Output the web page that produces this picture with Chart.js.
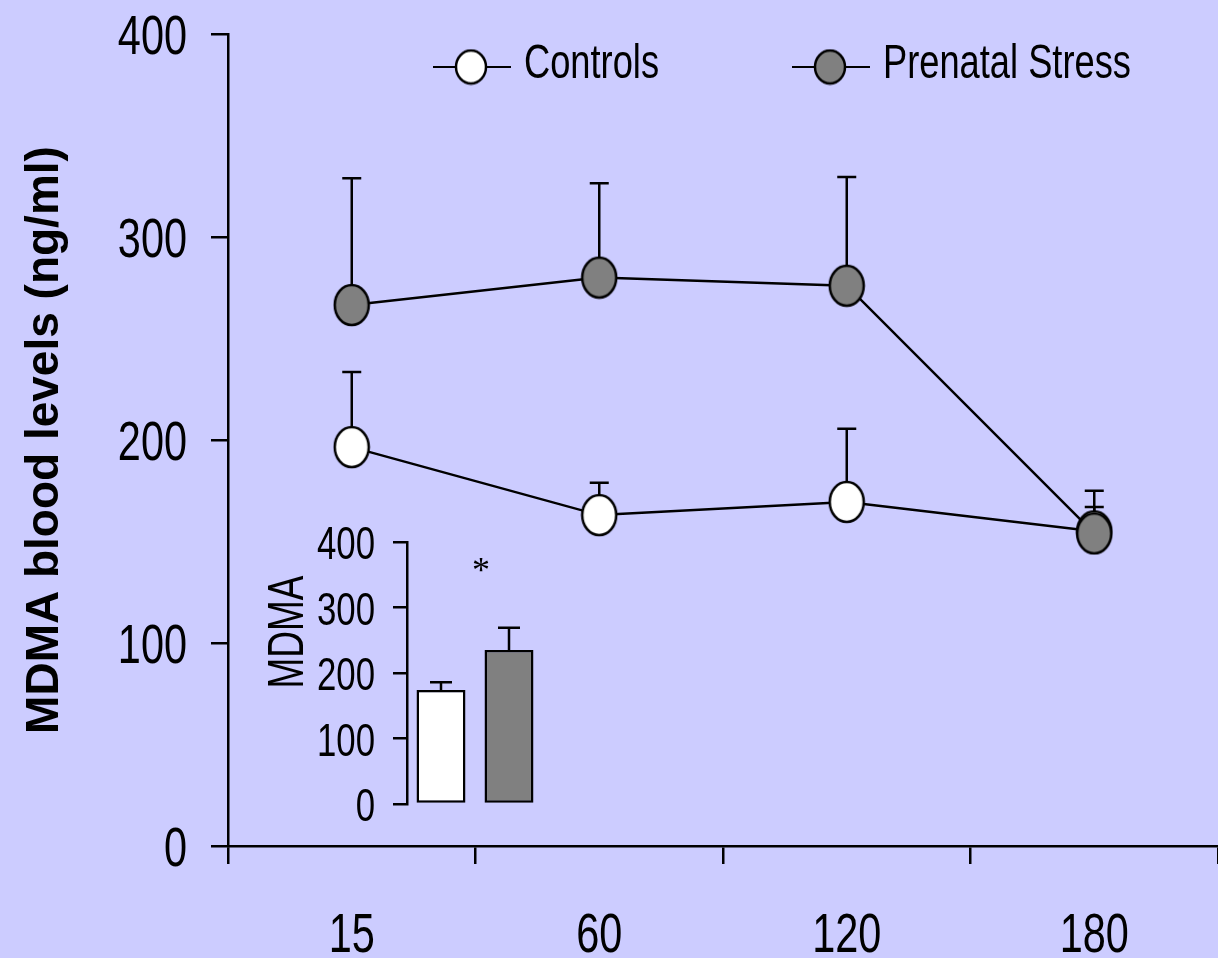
<!DOCTYPE html>
<html>
<head>
<meta charset="utf-8">
<script src="https://cdn.jsdelivr.net/npm/chart.js@4.4.1/dist/chart.umd.min.js"></script>
<style>
  body { margin: 0; background: #CCCCFF; }
  #wrap { position: relative; width: 1218px; height: 958px; overflow: hidden; }
  #inset { position: absolute; left: 240px; top: 510px; }
</style>
</head>
<body>
<div id="wrap">
  <canvas id="main" width="1218" height="958"></canvas>
  <canvas id="inset" width="320" height="320"></canvas>
</div>
<script>
// MDMA blood levels over time (min after injection)
const timePoints = ['15', '60', '120', '180'];
const controlsMean = [196.5, 163, 169.5, 155];
const controlsSem = [37, 16, 36, 12];
const stressMean = [266.5, 280, 276, 154];
const stressSem = [62.5, 46.5, 53.5, 21];
const yTicks = [0, 100, 200, 300, 400];

// inset: overall levels
const insetGroups = ['Controls', 'Prenatal Stress'];
const insetMean = [174, 235];
const insetSem = [12, 34];
const insetMark = '*';
const insetMarkValue = 363;

const SANS = "'Liberation Sans', Arial, sans-serif";
const GRAY = '#808080';
const SQUEEZE = 0.74; // the original type is a condensed face

// condensed text: plain font squeezed horizontally
function narrowText(ctx, text, x, y, size, align) {
    ctx.save();
    ctx.font = size + 'px ' + SANS;
    ctx.fillStyle = '#000';
    ctx.textBaseline = 'alphabetic';
    ctx.textAlign = align || 'left';
    ctx.translate(x, y);
    ctx.scale(SQUEEZE, 1);
    ctx.fillText(text, 0, 0);
    ctx.restore();
}

// ellipse markers as canvas point styles
function makeDot(fill, w, h) {
    const c = document.createElement('canvas');
    c.width = w + 4; c.height = h + 4;
    const g = c.getContext('2d');
    g.beginPath();
    g.ellipse(c.width / 2, c.height / 2, w / 2, h / 2, 0, 0, Math.PI * 2);
    g.fillStyle = fill;
    g.fill();
    g.lineWidth = 2.5;
    g.strokeStyle = '#000';
    g.stroke();
    return c;
}
const whiteDot = makeDot('#ffffff', 34, 40);
const grayDot = makeDot(GRAY, 34, 40);
const legendDots = [makeDot('#ffffff', 30, 33), makeDot(GRAY, 30, 33)];

// upward-only error bars
const errorBars = {
    id: 'errorBars',
    beforeDatasetsDraw(chart, args, opts) {
        if (!opts.after) drawErrors(chart, opts);
    },
    afterDatasetsDraw(chart, args, opts) {
        if (opts.after) drawErrors(chart, opts);
    }
};
function drawErrors(chart, opts) {
    const ctx = chart.ctx;
    const y = chart.scales.y;
    ctx.save();
    ctx.strokeStyle = '#000';
    ctx.lineWidth = opts.width || 2;
    chart.data.datasets.forEach((ds, i) => {
        const meta = chart.getDatasetMeta(i);
        meta.data.forEach((el, j) => {
            const top = y.getPixelForValue(ds.data[j] + ds.sem[j]);
            const base = y.getPixelForValue(ds.data[j]);
            const half = (opts.cap || 18) / 2;
            ctx.beginPath();
            ctx.moveTo(el.x, base);
            ctx.lineTo(el.x, top);
            ctx.moveTo(el.x - half, top);
            ctx.lineTo(el.x + half, top);
            ctx.stroke();
        });
    });
    ctx.restore();
}

// tick labels, legend
const mainText = {
    id: 'mainText',
    afterDraw(chart) {
        const ctx = chart.ctx;
        const x = chart.scales.x, y = chart.scales.y;
        yTicks.forEach(v => {
            narrowText(ctx, String(v), chart.chartArea.left - 41, y.getPixelForValue(v) + 20, 56, 'right');
        });
        timePoints.forEach((t, i) => {
            narrowText(ctx, t, x.getPixelForTick(i), chart.chartArea.bottom + 106, 56, 'center');
        });
        const starts = [433, 792];
        const yy = 67;
        chart.data.datasets.forEach((ds, i) => {
            const x0 = starts[i];
            ctx.save();
            ctx.strokeStyle = '#000';
            ctx.lineWidth = 2;
            ctx.beginPath();
            ctx.moveTo(x0, yy);
            ctx.lineTo(x0 + 78, yy);
            ctx.stroke();
            const img = legendDots[i];
            ctx.drawImage(img, x0 + 38 - img.width / 2, yy - img.height / 2);
            ctx.restore();
            narrowText(ctx, ds.label, x0 + 91, 78, 49, 'left');
        });
    }
};

new Chart(document.getElementById('main'), {
    type: 'line',
    data: {
        labels: timePoints,
        datasets: [{
            label: 'Controls',
            data: controlsMean,
            sem: controlsSem,
            borderColor: '#000',
            borderWidth: 2.5,
            pointStyle: whiteDot,
            pointRadius: 18,
            tension: 0,
            order: 2
        }, {
            label: 'Prenatal Stress',
            data: stressMean,
            sem: stressSem,
            borderColor: '#000',
            borderWidth: 2.5,
            pointStyle: grayDot,
            pointRadius: 18,
            tension: 0,
            order: 1
        }]
    },
    options: {
        responsive: false,
        animation: false,
        events: [],
        layout: { autoPadding: false, padding: { top: 34, right: 0, bottom: 0, left: 0 } },
        plugins: {
            legend: { display: false },
            tooltip: { enabled: false },
            errorBars: { cap: 19, width: 2.5 }
        },
        scales: {
            x: {
                offset: true,
                grid: { offset: true, drawOnChartArea: false, tickLength: 18, color: '#000', lineWidth: 2.5 },
                border: { color: '#000', width: 2.5 },
                ticks: { display: false },
                afterFit: s => { s.height = 112; }
            },
            y: {
                min: 0,
                max: 400,
                afterBuildTicks: s => { s.ticks = yTicks.map(v => ({ value: v })); },
                grid: { drawOnChartArea: false, tickLength: 17, color: '#000', lineWidth: 2.5 },
                border: { color: '#000', width: 2.5 },
                ticks: { display: false },
                title: {
                    display: true,
                    text: 'MDMA blood levels (ng/ml)',
                    color: '#000',
                    font: { family: SANS, weight: 'bold', size: 46 },
                    padding: { top: 18, bottom: 0 }
                },
                afterFit: s => { s.width = 228; }
            }
        }
    },
    plugins: [errorBars, mainText]
});

// inset labels, title and significance mark
const insetText = {
    id: 'insetText',
    afterDraw(chart) {
        const ctx = chart.ctx;
        const y = chart.scales.y;
        const bars = chart.getDatasetMeta(0).data;
        yTicks.forEach(v => {
            narrowText(ctx, String(v), chart.chartArea.left - 32, y.getPixelForValue(v) + 17, 47, 'right');
        });
        ctx.save();
        ctx.fillStyle = '#000';
        ctx.font = '36px "Liberation Serif", serif';
        ctx.textAlign = 'center';
        ctx.textBaseline = 'middle';
        ctx.fillText(insetMark, (bars[0].x + bars[1].x) / 2 + 6, y.getPixelForValue(insetMarkValue) + 6);
        ctx.translate(45, 122);
        ctx.rotate(-Math.PI / 2);
        narrowText(ctx, 'MDMA', 0, 18, 50, 'center');
        ctx.restore();
    }
};

new Chart(document.getElementById('inset'), {
    type: 'bar',
    data: {
        labels: insetGroups,
        datasets: [{
            data: insetMean,
            sem: insetSem,
            backgroundColor: ['#ffffff', GRAY],
            borderColor: '#000',
            borderWidth: 2.5,
            borderSkipped: false,
            barPercentage: 0.72,
            categoryPercentage: 1
        }]
    },
    options: {
        responsive: false,
        animation: false,
        events: [],
        layout: { padding: { top: 32, right: 17, bottom: 26, left: 0 } },
        plugins: {
            legend: { display: false },
            tooltip: { enabled: false },
            errorBars: { cap: 22, width: 2.5, after: true }
        },
        scales: {
            x: { display: false },
            y: {
                min: 0,
                max: 400,
                afterBuildTicks: s => { s.ticks = yTicks.map(v => ({ value: v })); },
                grid: { drawOnChartArea: false, tickLength: 14, color: '#000', lineWidth: 2.5 },
                border: { color: '#000', width: 2.5 },
                ticks: { display: false },
                afterFit: s => { s.width = 167; }
            }
        }
    },
    plugins: [errorBars, insetText]
});
</script>
</body>
</html>
